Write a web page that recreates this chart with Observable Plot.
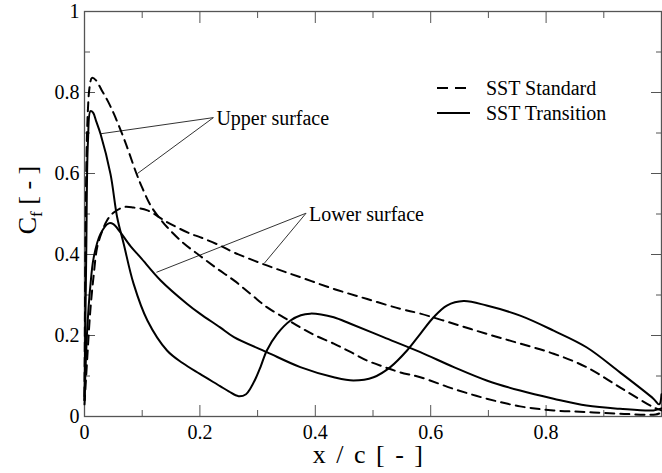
<!DOCTYPE html>
<html><head><meta charset="utf-8">
<script src="https://cdn.jsdelivr.net/npm/d3@7"></script>
<script src="https://cdn.jsdelivr.net/npm/@observablehq/plot@0.6"></script>
<style>
html,body{margin:0;padding:0;background:#fff}
#chart{width:662px;height:473px}
#chart svg, #chart svg text{font-family:'Liberation Serif','Times New Roman',serif !important}
</style>
</head><body><div id="chart"></div>
<script>
// ---- data ----
const seriesNames = ["SST Standard", "SST Transition"];

const stdUpperX = [0, 0.003, 0.006, 0.009, 0.013, 0.02, 0.03, 0.04, 0.051, 0.07, 0.09, 0.10, 0.115, 0.13, 0.143, 0.17, 0.2, 0.23, 0.259, 0.29, 0.316, 0.345, 0.374, 0.40, 0.432, 0.46, 0.49, 0.52, 0.547, 0.582, 0.64, 0.697, 0.755, 0.813, 0.87, 0.928, 0.99, 1.0];
const stdUpperY = [0.05, 0.60, 0.76, 0.815, 0.836, 0.83, 0.805, 0.78, 0.747, 0.68, 0.60, 0.565, 0.52, 0.49, 0.468, 0.43, 0.397, 0.365, 0.336, 0.30, 0.27, 0.245, 0.22, 0.20, 0.18, 0.16, 0.138, 0.122, 0.109, 0.097, 0.068, 0.044, 0.025, 0.015, 0.011, 0.007, 0.005, 0.01];

const stdLowerX = [0, 0.005, 0.01, 0.016, 0.022, 0.03, 0.039, 0.05, 0.068, 0.085, 0.109, 0.143, 0.184, 0.2, 0.235, 0.259, 0.316, 0.374, 0.432, 0.49, 0.547, 0.582, 0.64, 0.697, 0.755, 0.813, 0.87, 0.928, 0.986, 1.0];
const stdLowerY = [0.03, 0.15, 0.26, 0.35, 0.418, 0.455, 0.484, 0.503, 0.517, 0.516, 0.509, 0.48, 0.451, 0.443, 0.422, 0.405, 0.373, 0.344, 0.315, 0.29, 0.266, 0.254, 0.229, 0.204, 0.18, 0.155, 0.122, 0.072, 0.023, 0.015];

const traUpperX = [0, 0.003, 0.006, 0.0104, 0.015, 0.02, 0.0277, 0.045, 0.0566, 0.068, 0.085, 0.109, 0.143, 0.17, 0.2, 0.235, 0.25, 0.267, 0.28, 0.287, 0.297, 0.305, 0.316, 0.334, 0.357, 0.375, 0.391, 0.41, 0.432, 0.461, 0.518, 0.582, 0.64, 0.697, 0.755, 0.813, 0.87, 0.928, 0.986, 1.0];
const traUpperY = [0.04, 0.40, 0.68, 0.754, 0.75, 0.73, 0.698, 0.599, 0.492, 0.426, 0.328, 0.237, 0.163, 0.132, 0.105, 0.075, 0.062, 0.05, 0.055, 0.068, 0.095, 0.122, 0.163, 0.204, 0.237, 0.25, 0.254, 0.252, 0.245, 0.229, 0.196, 0.159, 0.122, 0.089, 0.064, 0.044, 0.027, 0.019, 0.015, 0.02];

const traLowerX = [0, 0.0046, 0.01, 0.016, 0.0277, 0.042, 0.05, 0.062, 0.08, 0.097, 0.132, 0.178, 0.2, 0.235, 0.259, 0.316, 0.374, 0.432, 0.466, 0.501, 0.53, 0.559, 0.582, 0.605, 0.628, 0.657, 0.697, 0.755, 0.813, 0.87, 0.928, 0.986, 0.996, 1.0];
const traLowerY = [0.04, 0.212, 0.32, 0.393, 0.451, 0.477, 0.475, 0.455, 0.42, 0.393, 0.336, 0.278, 0.254, 0.22, 0.196, 0.159, 0.122, 0.097, 0.089, 0.097, 0.122, 0.163, 0.204, 0.245, 0.274, 0.285, 0.274, 0.249, 0.212, 0.171, 0.109, 0.044, 0.03, 0.055];

const xMajor = [0, 0.2, 0.4, 0.6, 0.8, 1];
const xMinor = [0.1, 0.3, 0.5, 0.7, 0.9];
const xTickLabels = ["0", "0.2", "0.4", "0.6", "0.8", ""];
const yMajor = [0, 0.2, 0.4, 0.6, 0.8, 1];
const yMinor = [0.1, 0.3, 0.5, 0.7, 0.9];
const yTickLabels = ["0", "0.2", "0.4", "0.6", "0.8", "1"];

const annLabels = ["Upper surface", "Lower surface"];
const annX = [0.2234, 0.384];
const annY = [0.738, 0.502];
const annTargetX = [[0.0277, 0.0918], [0.1247, 0.3117]];
const annTargetY = [[0.698, 0.60], [0.356, 0.3785]];

const xTitle = "x / c [ - ]";
const yTitleMain = "C", yTitleSub = "f", yTitleRest = " [ - ]";

// ---- build tables ----
const rows = [];
function addSeries(xs, ys, model, surface) {
  xs.forEach((x, i) => rows.push({x, y: ys[i], model, surface}));
}
addSeries(stdUpperX, stdUpperY, seriesNames[0], "upper");
addSeries(stdLowerX, stdLowerY, seriesNames[0], "lower");
addSeries(traUpperX, traUpperY, seriesNames[1], "upper");
addSeries(traLowerX, traLowerY, seriesNames[1], "lower");

const annText = annLabels.map((label, i) => ({label, x: annX[i], y: annY[i]}));
const annLinks = [];
annLabels.forEach((label, i) => annTargetX[i].forEach((tx, j) =>
  annLinks.push({x1: annX[i], y1: annY[i], x2: tx, y2: annTargetY[i][j]})));

const serif = "'Liberation Serif', 'Times New Roman', serif";
const axisColor = "#555";

const plot = Plot.plot({
  width: 662, height: 473,
  marginLeft: 84, marginRight: 1, marginTop: 11, marginBottom: 57,
  style: {fontFamily: serif, fontSize: "20px", background: "white", color: "black", overflow: "visible"},
  x: {domain: [0, 1], label: null},
  y: {domain: [0, 1], label: null},
  marks: [
    Plot.axisX({anchor: "bottom", ticks: xMajor, tickSize: -11, tickFormat: () => "", stroke: axisColor}),
    Plot.axisX({anchor: "bottom", ticks: xMinor, tickSize: -6, tickFormat: () => "", stroke: axisColor}),
    Plot.axisX({anchor: "top", ticks: xMajor, tickSize: -11, tickFormat: () => "", stroke: axisColor}),
    Plot.axisX({anchor: "top", ticks: xMinor, tickSize: -6, tickFormat: () => "", stroke: axisColor}),
    Plot.axisY({anchor: "left", ticks: yMajor, tickSize: -11, tickFormat: () => "", stroke: axisColor}),
    Plot.axisY({anchor: "left", ticks: yMinor, tickSize: -6, tickFormat: () => "", stroke: axisColor}),
    Plot.axisY({anchor: "right", ticks: yMajor, tickSize: -11, tickFormat: () => "", stroke: axisColor}),
    Plot.axisY({anchor: "right", ticks: yMinor, tickSize: -6, tickFormat: () => "", stroke: axisColor}),
    Plot.axisX({anchor: "bottom", ticks: xMajor, tickSize: 0, tickPadding: 8,
      tickFormat: d => xTickLabels[xMajor.indexOf(d)], fontSize: 20, fill: "black"}),
    Plot.axisY({anchor: "left", ticks: yMajor, tickSize: 0, tickPadding: 5,
      tickFormat: d => yTickLabels[yMajor.indexOf(d)], fontSize: 20, fill: "black"}),
    Plot.frame({stroke: axisColor, strokeWidth: 1.3}),
    Plot.link(annLinks, {x1: "x1", y1: "y1", x2: "x2", y2: "y2", stroke: "#333", strokeWidth: 1}),
    Plot.text(annText, {x: "x", y: "y", text: "label", textAnchor: "start", dx: 3, dy: 1, fontSize: 20, fill: "black"}),
    Plot.line(rows.filter(d => d.model === seriesNames[0]), {x: "x", y: "y", z: "surface", stroke: "black", strokeWidth: 2, strokeDasharray: "9,6", curve: "catmull-rom"}),
    Plot.line(rows.filter(d => d.model === seriesNames[1]), {x: "x", y: "y", z: "surface", stroke: "black", strokeWidth: 2, curve: "catmull-rom"})
  ]
});
document.getElementById("chart").appendChild(plot);

// titles and legend
const svg = d3.select(plot);
svg.append("text").attr("x", 423).attr("y", 463).attr("text-anchor", "end")
  .attr("font-family", serif).attr("font-size", 26).attr("fill", "black")
  .style("white-space", "pre").style("word-spacing", "4px").text(xTitle);
const yt = svg.append("text").attr("transform", "translate(36,200) rotate(-90)")
  .attr("text-anchor", "middle").attr("font-family", serif).attr("font-size", 26).attr("fill", "black")
  .style("white-space", "pre");
yt.append("tspan").text(yTitleMain);
yt.append("tspan").attr("dy", 6).attr("font-size", 17).text(yTitleSub);
yt.append("tspan").attr("dy", -6).text(yTitleRest);

const legend = svg.append("g");
seriesNames.forEach((name, i) => {
  const yy = 88 + i * 25;
  legend.append("line").attr("x1", 437).attr("x2", 470).attr("y1", yy).attr("y2", yy)
    .attr("stroke", "black").attr("stroke-width", 2)
    .attr("stroke-dasharray", i === 0 ? "11,7" : null);
  legend.append("text").attr("x", 486).attr("y", yy).attr("dy", "0.35em")
    .attr("text-anchor", "start")
    .attr("font-family", serif).attr("font-size", 20).attr("fill", "black").text(name);
});
</script>
</body></html>
